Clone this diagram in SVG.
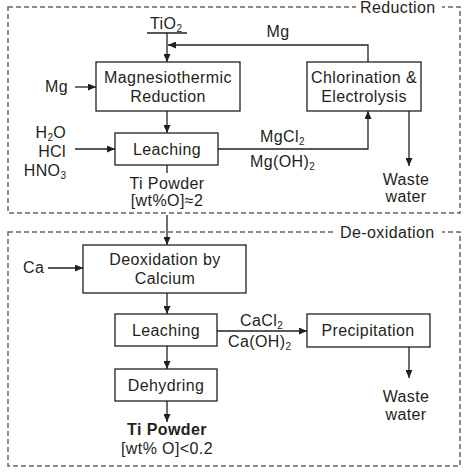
<svg xmlns="http://www.w3.org/2000/svg" width="465" height="474" viewBox="0 0 465 474">
<defs>
<marker id="ah" markerWidth="8" markerHeight="7" refX="8" refY="3.5" orient="auto" markerUnits="userSpaceOnUse">
<path d="M0,0 L8,3.5 L0,7 Z" fill="#231f20"/>
</marker>
</defs>
<style>
text{font-family:"Liberation Sans",Arial,sans-serif;font-size:16px;fill:#231f20;letter-spacing:0.4px}
.c{text-anchor:middle}
.r{text-anchor:end}
.b{font-weight:bold}
.sub{font-size:10px;letter-spacing:0}
.box{fill:#fff;stroke:#231f20;stroke-width:1.3}
.dash{fill:none;stroke:#666;stroke-width:1.5;stroke-dasharray:5,3}
.ln{fill:none;stroke:#231f20;stroke-width:1.3}
.ar{fill:none;stroke:#231f20;stroke-width:1.3;marker-end:url(#ah)}
</style>
<rect width="465" height="474" fill="#fff"/>
<g id="section-reduction">
<rect class="dash" x="8" y="7" width="452" height="206"/>
<rect x="356" y="0" width="86" height="14" fill="#fff"/>
<text x="360" y="13">Reduction</text>
</g>
<g id="section-deoxidation">
<rect class="dash" x="8" y="232" width="452" height="234"/>
<rect x="336" y="225" width="106" height="14" fill="#fff"/>
<text x="340" y="238">De-oxidation</text>
</g>
<g id="connectors">
<line class="ln" x1="147" y1="33" x2="187" y2="33"/>
<line class="ar" x1="167" y1="33" x2="167" y2="62"/>
<polyline class="ar" points="368,62 368,45 168,45"/>
<line class="ar" x1="75" y1="87" x2="96" y2="87"/>
<line class="ar" x1="167" y1="111" x2="167" y2="133"/>
<line class="ar" x1="75" y1="149" x2="115" y2="149"/>
<polyline class="ar" points="218,149 368,149 368,111"/>
<line class="ar" x1="409" y1="111" x2="409" y2="166"/>
<line class="ln" x1="167" y1="165" x2="167" y2="173"/>
<line class="ar" x1="167" y1="215" x2="167" y2="245"/>
<line class="ar" x1="48" y1="268" x2="83" y2="268"/>
<line class="ar" x1="167" y1="293" x2="167" y2="314"/>
<line class="ar" x1="217" y1="331" x2="307" y2="331"/>
<line class="ar" x1="409" y1="347" x2="409" y2="378"/>
<line class="ar" x1="167" y1="346" x2="167" y2="369"/>
<line class="ar" x1="167" y1="401" x2="167" y2="422"/>
</g>
<g id="tio2"><text x="150" y="29">TiO<tspan class="sub" dy="3">2</tspan></text></g>
<g id="mg-recycle"><text class="c" x="278" y="37">Mg</text></g>
<g id="mg-in"><text x="45" y="92">Mg</text></g>
<g id="magnesiothermic">
<rect class="box" x="96" y="62" width="144" height="49"/>
<text class="c" x="168" y="83">Magnesiothermic</text>
<text class="c" x="168" y="102">Reduction</text>
</g>
<g id="chlorination">
<rect class="box" x="307" y="62" width="114" height="49"/>
<text class="c" x="364" y="83">Chlorination &amp;</text>
<text class="c" x="364" y="102">Electrolysis</text>
</g>
<g id="acids">
<text class="r" x="66" y="138">H<tspan class="sub" dy="3">2</tspan><tspan dy="-3">O</tspan></text>
<text class="r" x="66" y="157">HCl</text>
<text class="r" x="66" y="176">HNO<tspan class="sub" dy="3">3</tspan></text>
</g>
<g id="leaching1">
<rect class="box" x="115" y="133" width="103" height="32"/>
<text class="c" x="167" y="155">Leaching</text>
</g>
<g id="mgcl2">
<text x="260" y="142">MgCl<tspan class="sub" dy="3">2</tspan></text>
<text x="250" y="167">Mg(OH)<tspan class="sub" dy="3">2</tspan></text>
</g>
<g id="waste1">
<text class="c" x="406" y="185">Waste</text>
<text class="c" x="406" y="202">water</text>
</g>
<g id="ti-powder1">
<text class="c" x="167" y="189">Ti Powder</text>
<text class="c" x="167" y="206">[wt%O]≈2</text>
</g>
<g id="ca-in"><text x="23" y="273">Ca</text></g>
<g id="deoxidation">
<rect class="box" x="83" y="245" width="163" height="48"/>
<text class="c" x="165" y="265">Deoxidation by</text>
<text class="c" x="165" y="284">Calcium</text>
</g>
<g id="leaching2">
<rect class="box" x="115" y="314" width="102" height="32"/>
<text class="c" x="166" y="336">Leaching</text>
</g>
<g id="cacl2">
<text x="240" y="326">CaCl<tspan class="sub" dy="3">2</tspan></text>
<text x="228" y="347">Ca(OH)<tspan class="sub" dy="3">2</tspan></text>
</g>
<g id="precipitation">
<rect class="box" x="307" y="314" width="123" height="33"/>
<text class="c" x="368" y="336">Precipitation</text>
</g>
<g id="waste2">
<text class="c" x="406" y="402">Waste</text>
<text class="c" x="406" y="420">water</text>
</g>
<g id="dehydring">
<rect class="box" x="115" y="369" width="102" height="32"/>
<text class="c" x="166" y="391">Dehydring</text>
</g>
<g id="ti-powder2">
<text class="c b" x="167" y="435">Ti Powder</text>
<text class="c" x="167" y="454">[wt% O]&lt;0.2</text>
</g>
</svg>
